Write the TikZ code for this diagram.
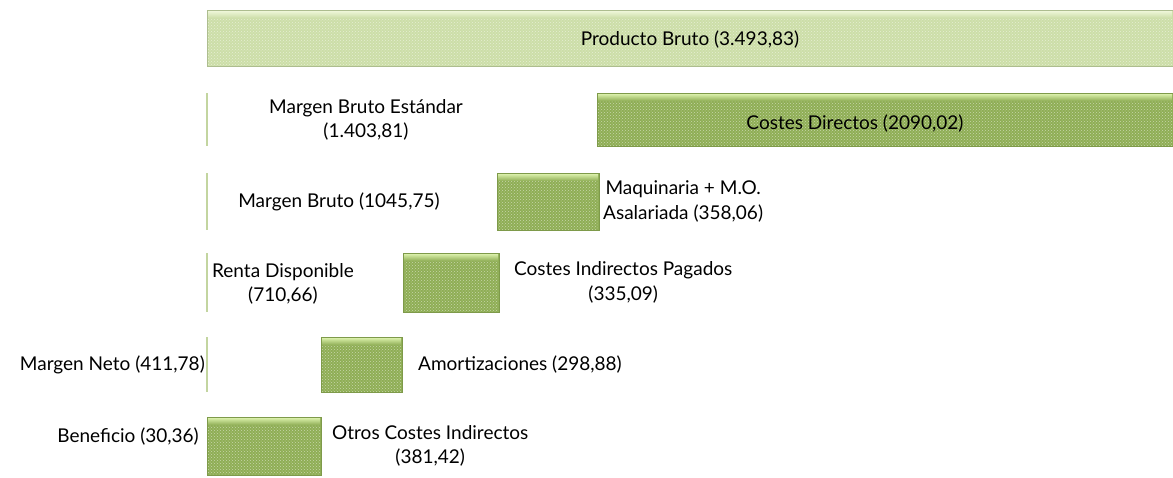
\documentclass[tikz,border=0pt]{standalone}
\usepackage{fontspec}
\setmainfont{Lato}
\usetikzlibrary{positioning,patterns}
\definecolor{pale green}{HTML}{CCDEA8}
\definecolor{pale top}{HTML}{EEF6D8}
\definecolor{olive}{HTML}{8FAE55}
\definecolor{olive top}{HTML}{D8EEA8}
\definecolor{olive edge}{HTML}{7E9A4A}
\definecolor{stub line}{HTML}{C3D5A0}
% bars: x from / x to / y from / y to / name
\def\costbars{{597/1173/93/146/cd}, {497/599/173/230/maq}, {403/499/253/312/ci}, {321/402/337/392/am}, {207/321/417/475/oc}}
\def\stubs{{93/146/s1}, {173/230/s2}, {253/312/s3}, {337/392/s4}}
\tikzstyle{gross bar} = [fill=pale green, draw=pale green!85!black, line width=0.8pt]
\tikzstyle{cost bar} = [fill=olive, draw=olive edge, line width=0.8pt]
\tikzstyle{shine} = [top color=olive top, bottom color=olive]
\tikzstyle{dots} = [pattern=crosshatch dots, pattern color=white, opacity=0.5]
\tikzstyle{stub} = [draw=stub line, line width=1.5pt]
\tikzstyle{label} = [font=\fontsize{19}{24.5}\selectfont, align=center, inner sep=0pt]

\begin{document}
\begin{tikzpicture}[x=1pt,y=-1pt]

  \useasboundingbox (0,0) rectangle (1173,477);

  % The gross product
  \path[gross bar] (207,10) rectangle (1173,66);
  \path[top color=pale top, bottom color=pale green] (208,11) rectangle (1172,18);
  \path[dots] (208,18) rectangle (1172,65);
  \node[label] (pb) at (690,40) {Producto Bruto (3.493,83)};

  % The costs taken away
  \foreach \xa/\xb/\ya/\yb/\name in \costbars {
    \path[cost bar] (\xa,\ya) rectangle (\xb,\yb);
    \path[shine] ({\xa+1},{\ya+1}) rectangle ({\xb-1},{\ya+8});
    \path[dots] ({\xa+1},{\ya+8}) rectangle ({\xb-1},{\yb-1});
    \coordinate (\name) at (\xb,{(\ya+\yb)/2});
  }

  % The thin lines of what remains
  \foreach \ya/\yb/\name in \stubs {
    \coordinate (\name-a) at (207,\ya);
    \coordinate (\name-b) at (207,\yb);
    \path[stub] (\name-a) -- (\name-b);
  }

  % Labels of the bars
  \node[label] (cdl) at (855,124) {Costes Directos (2090,02)};
  \node[label] (mbe) at (366,120) {Margen Bruto Estándar\\(1.403,81)};
  \node[label] (mb) at (339,202) {Margen Bruto (1045,75)};
  \node[label, right=4pt of maq] (maql) {Maquinaria + M.O.\\Asalariada (358,06)};
  \node[label] (rd) at (283,284) {Renta Disponible\\(710,66)};
  \node[label, right=15pt of ci] (cil) {Costes Indirectos Pagados\\(335,09)};
  \node[label, anchor=east] (mn) at (205,365) {Margen Neto (411,78)};
  \node[label, right=16pt of am] (aml) {Amortizaciones (298,88)};
  \node[label, anchor=east] (ben) at (199,437) {Beneficio (30,36)};
  \node[label, right=11pt of oc] (ocl) {Otros Costes Indirectos\\(381,42)};

\end{tikzpicture}
\end{document}
